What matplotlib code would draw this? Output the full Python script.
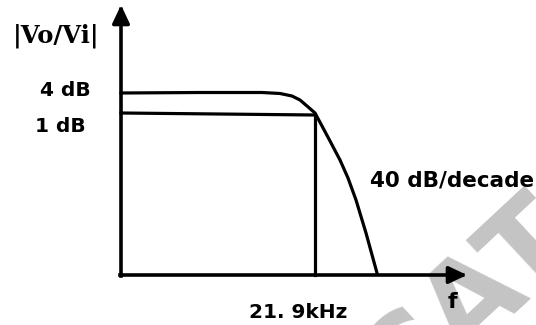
import matplotlib
matplotlib.use("Agg")
import matplotlib.pyplot as plt
from matplotlib.patches import FancyArrowPatch

# canvas is laid out in pixel units (x right, y down)
W, H = 536, 325

# axes of the sketch
origin = (121, 275)
y_axis_top = 5
x_axis_end = 467

# gain levels and their labels
level_labels = ["4 dB", "1 dB"]
level_y = [93, 113]

# peaked response (4 dB) rolling off past the cutoff
peak_x = [121, 200, 262, 280, 292, 300, 307, 315, 322, 330, 340, 348, 356, 366, 377]
peak_y = [93, 92.5, 92.5, 93.5, 96, 100, 106, 113, 126, 141, 160, 178, 200, 233, 273]

# flat 1 dB line up to the cutoff
flat_x = [121, 315]
flat_y = [113, 115]

# cutoff marker
cutoff_x = 315
cutoff_label = "21. 9kHz"
slope_label = "40 dB/decade"

fig = plt.figure(figsize=(W / 100, H / 100), dpi=100)
ax = fig.add_axes([0, 0, 1, 1])
ax.set_xlim(0, W)
ax.set_ylim(H, 0)
ax.axis("off")

# faint watermark
ax.text(468, 306, "CAT", rotation=43, fontsize=86, fontweight="bold",
        color="#c4c4c4", ha="center", va="center", zorder=0,
        family="DejaVu Sans", clip_on=True)

lw_axis = 2.6
lw_curve = 2.3

def arrow(p0, p1):
    a = FancyArrowPatch(p0, p1, arrowstyle="-|>,head_length=11,head_width=5.2",
                        mutation_scale=1, lw=lw_axis, color="black",
                        shrinkA=0, shrinkB=0, capstyle="projecting", zorder=3)
    ax.add_patch(a)

arrow((origin[0], origin[1] + 1), (origin[0], y_axis_top))
arrow((origin[0] - 1, origin[1]), (x_axis_end, origin[1]))

ax.plot(peak_x, peak_y, color="black", lw=lw_curve, solid_joinstyle="round", zorder=2)
ax.plot(flat_x, flat_y, color="black", lw=lw_curve, zorder=2)
ax.plot([cutoff_x, cutoff_x], [flat_y[-1], origin[1]], color="black", lw=lw_curve, zorder=2)

sans = dict(family="DejaVu Sans", fontweight="bold", color="black")
ax.text(56, 36, "|Vo/Vi|", family="DejaVu Serif", fontweight="bold",
        fontsize=17.5, ha="center", va="center")
ax.text(65, level_y[0] - 3, level_labels[0], fontsize=14.5, ha="center", va="center", **sans)
ax.text(60, level_y[1] + 13, level_labels[1], fontsize=14.5, ha="center", va="center", **sans)
ax.text(452, 180, slope_label, fontsize=15.5, ha="center", va="center", **sans)
ax.text(298, 312, cutoff_label, fontsize=14.5, ha="center", va="center", **sans)
ax.text(452, 302, "f", fontsize=16, ha="center", va="center", **sans)

fig.savefig("out.png", dpi=100)
